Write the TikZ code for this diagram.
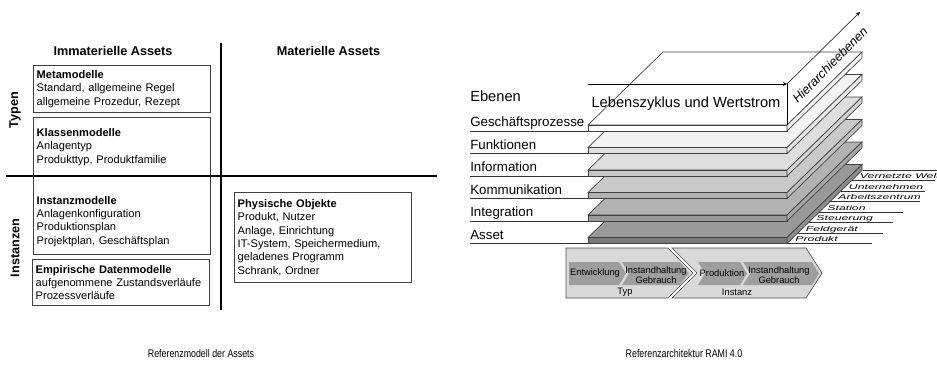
\documentclass[tikz,border=0pt]{standalone}
\usepackage{fontspec}
\setmainfont{Liberation Sans}

\begin{document}
\begin{tikzpicture}[
  x=0.75pt, y=-0.75pt,
  every node/.style={font=\fontsize{8.3}{10}\selectfont},
  assetbox/.style={rectangle, draw=black!75, line width=0.6pt, text width=128pt,
    align=left, inner xsep=2.5pt, inner ysep=0pt, anchor=north west},
  headline/.style={font=\fontsize{9.5}{11}\selectfont\bfseries},
  slabline/.style={draw=black!75, line width=0.5pt},
  layerlabel/.style={anchor=base west, inner sep=0pt, font=\fontsize{10}{12}\selectfont},
  hierlabel/.style={anchor=base west, inner sep=0pt, xscale=1.75,
    font=\fontsize{5.25}{6}\selectfont\itshape},
  chevron/.style={draw=black!70, line width=0.5pt, fill=black!15},
  chevinner/.style={fill=black!38},
  chevtext/.style={align=center, inner sep=0pt, font=\fontsize{7}{7.5}\selectfont},
  caption/.style={xscale=0.8, font=\fontsize{8.3}{10}\selectfont},
]
\useasboundingbox (0,0) rectangle (937,364);

% ---------------- Referenzmodell der Assets ----------------
\node[headline] (immat) at (113,51) {Immaterielle Assets};
\node[headline] (mat) at (328.5,51) {Materielle Assets};
\node[headline, rotate=90] (typen) at (15,110) {Typen};
\node[headline, rotate=90] (instanzen) at (15,248) {Instanzen};

% Typen
\node[assetbox, minimum height=35.25pt] (meta) at (33,65)
  {\textbf{Metamodelle}\\Standard, allgemeine Regel\\allgemeine Prozedur, Rezept};
\node[assetbox, minimum height=44.25pt] (klassen) at (33,117)
  {\textbf{Klassenmodelle}\\Anlagentyp\\Produkttyp, Produktfamilie};

% Instanzen
\node[assetbox, minimum height=58.5pt] (instanz) at (33,176)
  {\rule{0pt}{15pt}\textbf{Instanzmodelle}\\Anlagenkonfiguration\\Produktionsplan\\Projektplan, Geschäftsplan};
\node[assetbox, minimum height=34.5pt] (empir) at (32,259)
  {\textbf{Empirische Datenmodelle}\\\mbox{aufgenommene Zustandsverläufe}\\Prozessverläufe};
\node[assetbox, minimum height=67.5pt] (physisch) at (234,192)
  {\textbf{Physische Objekte}\\Produkt, Nutzer\\Anlage, Einrichtung\\IT-System, Speichermedium,\\geladenes Programm\\Schrank, Ordner};

% Trennlinien
\draw[line width=1pt] (6,176) -- (437,176);
\draw[line width=1pt] (221,43) -- (221,310);

\node[caption] (capleft) at (201,354) {Referenzmodell der Assets};

% ---------------- RAMI 4.0 ----------------
% Asset
\filldraw[slabline, fill=black!40] (588,237.5) -- ++(199,0) -- ++(75,-73) -- ++(-199,0) -- cycle;
\filldraw[slabline, fill=black!52] (588,237.5) rectangle (787,243.5);
\filldraw[slabline, fill=black!45] (787,237.5) -- ++(75,-73) -- ++(0,6) -- ++(-75,73) -- cycle;
% Integration
\filldraw[slabline, fill=black!30] (588,215) -- ++(199,0) -- ++(75,-73) -- ++(-199,0) -- cycle;
\filldraw[slabline, fill=black!40] (588,215) rectangle (787,221);
\filldraw[slabline, fill=black!35] (787,215) -- ++(75,-73) -- ++(0,6) -- ++(-75,73) -- cycle;
% Kommunikation
\filldraw[slabline, fill=black!21] (588,192.5) -- ++(199,0) -- ++(75,-73) -- ++(-199,0) -- cycle;
\filldraw[slabline, fill=black!30] (588,192.5) rectangle (787,198.5);
\filldraw[slabline, fill=black!25] (787,192.5) -- ++(75,-73) -- ++(0,6) -- ++(-75,73) -- cycle;
% Information
\filldraw[slabline, fill=black!13] (588,170) -- ++(199,0) -- ++(75,-73) -- ++(-199,0) -- cycle;
\filldraw[slabline, fill=black!22] (588,170) rectangle (787,176);
\filldraw[slabline, fill=black!17] (787,170) -- ++(75,-73) -- ++(0,6) -- ++(-75,73) -- cycle;
% Funktionen
\filldraw[slabline, fill=black!5] (588,147.5) -- ++(199,0) -- ++(75,-73) -- ++(-199,0) -- cycle;
\filldraw[slabline, fill=black!12] (588,147.5) rectangle (787,153.5);
\filldraw[slabline, fill=black!9] (787,147.5) -- ++(75,-73) -- ++(0,6) -- ++(-75,73) -- cycle;
% Geschaeftsprozesse
\filldraw[slabline, fill=white] (588,125) -- ++(199,0) -- ++(75,-73) -- ++(-199,0) -- cycle;
\filldraw[slabline, fill=white] (588,125) rectangle (787,131);
\filldraw[slabline, fill=black!6] (787,125) -- ++(75,-73) -- ++(0,6) -- ++(-75,73) -- cycle;

% Ebenen
\node[anchor=west, inner sep=0pt, font=\fontsize{11}{13}\selectfont] (ebenen) at (470,96) {Ebenen};
\node[layerlabel] (gp) at (470,126.5) {Geschäftsprozesse};
\node[layerlabel] (fkt) at (470,149) {Funktionen};
\node[layerlabel] (info) at (470,171.5) {Information};
\node[layerlabel] (komm) at (470,194) {Kommunikation};
\node[layerlabel] (integ) at (470,216.5) {Integration};
\node[layerlabel] (asset) at (470,239) {Asset};
\draw[black!80] (470,131) -- (588,131);
\draw[black!80] (470,153.5) -- (588,153.5);
\draw[black!80] (470,176) -- (588,176);
\draw[black!80] (470,198.5) -- (588,198.5);
\draw[black!80] (470,221) -- (588,221);
\draw[black!80] (470,243.5) -- (588,243.5);

% Achsen
\coordinate (lzstart) at (588,84);
\coordinate (axcorner) at (787,84);
\coordinate (axfoot) at (787,125);
\coordinate (hetop) at (860,12);
\draw[->, >=stealth] (lzstart) -- (axcorner);
\draw[->, >=stealth] (axcorner) -- (hetop);
\draw (axcorner) -- (axfoot);
\node[font=\fontsize{11}{13}\selectfont] (lz) at (686,104) {Lebenszyklus und Wertstrom};
\node[rotate=45, inner sep=0pt, font=\fontsize{9.5}{11}\selectfont\itshape] (hier) at (830,65) {Hierarchieebenen};

% Hierarchiestufen
\draw[black!80] (787,243.5) -- (872,243.5);
\draw[black!80] (797.8,233) -- (883,233);
\draw[black!80] (808.6,222.5) -- (893,222.5);
\draw[black!80] (819.4,212) -- (903,212);
\draw[black!80] (830.2,201.5) -- (920,201.5);
\draw[black!80] (841,191) -- (925,191);
\draw[black!80] (851.8,180.5) -- (935,180.5);
\draw[black!80] (862.6,170) -- (945,170);
\node[hierlabel] (produkt) at (795,241.5) {Produkt};
\node[hierlabel] (feldgeraet) at (805.5,231) {Feldgerät};
\node[hierlabel] (steuerung) at (816,220.5) {Steuerung};
\node[hierlabel] (station) at (827,210) {Station};
\node[hierlabel] (arbeitsz) at (838,199.5) {Arbeitszentrum};
\node[hierlabel] (untern) at (848.5,189) {Unternehmen};
\node[hierlabel] (vernetzt) at (859.5,178.5) {Vernetzte Welt};

% Lebenszyklus-Pfeile
\filldraw[chevron] (566,248) -- (668,248) -- (693,273) -- (668,298) -- (566,298) -- cycle;
\filldraw[chevron] (672,248) -- (806,248) -- (822,273) -- (806,298) -- (672,298) -- (697,273) -- cycle;
\fill[chevinner] (569,262) -- (619,262) -- (626,273.5) -- (619,285) -- (569,285) -- cycle;
\fill[chevinner] (622,262) -- (680,262) -- (689,273.5) -- (680,285) -- (622,285) -- (629,273.5) -- cycle;
\fill[chevinner] (698,262) -- (740,262) -- (747,273.5) -- (740,285) -- (698,285) -- (705,273.5) -- cycle;
\fill[chevinner] (743,262) -- (812,262) -- (819,273.5) -- (812,285) -- (743,285) -- (750,273.5) -- cycle;
\node[chevtext] (entw) at (595,273.5) {Entwicklung};
\node[chevtext] (ihtyp) at (656,275) {Instandhaltung\\Gebrauch};
\node[chevtext] (prod) at (722,273.5) {Produktion};
\node[chevtext] (ihinst) at (779,275) {Instandhaltung\\Gebrauch};
\node[chevtext] (typ) at (625,292) {Typ};
\node[chevtext] (inst) at (737,292) {Instanz};

\node[caption] (capright) at (684,354) {Referenzarchitektur RAMI 4.0};

\end{tikzpicture}
\end{document}
